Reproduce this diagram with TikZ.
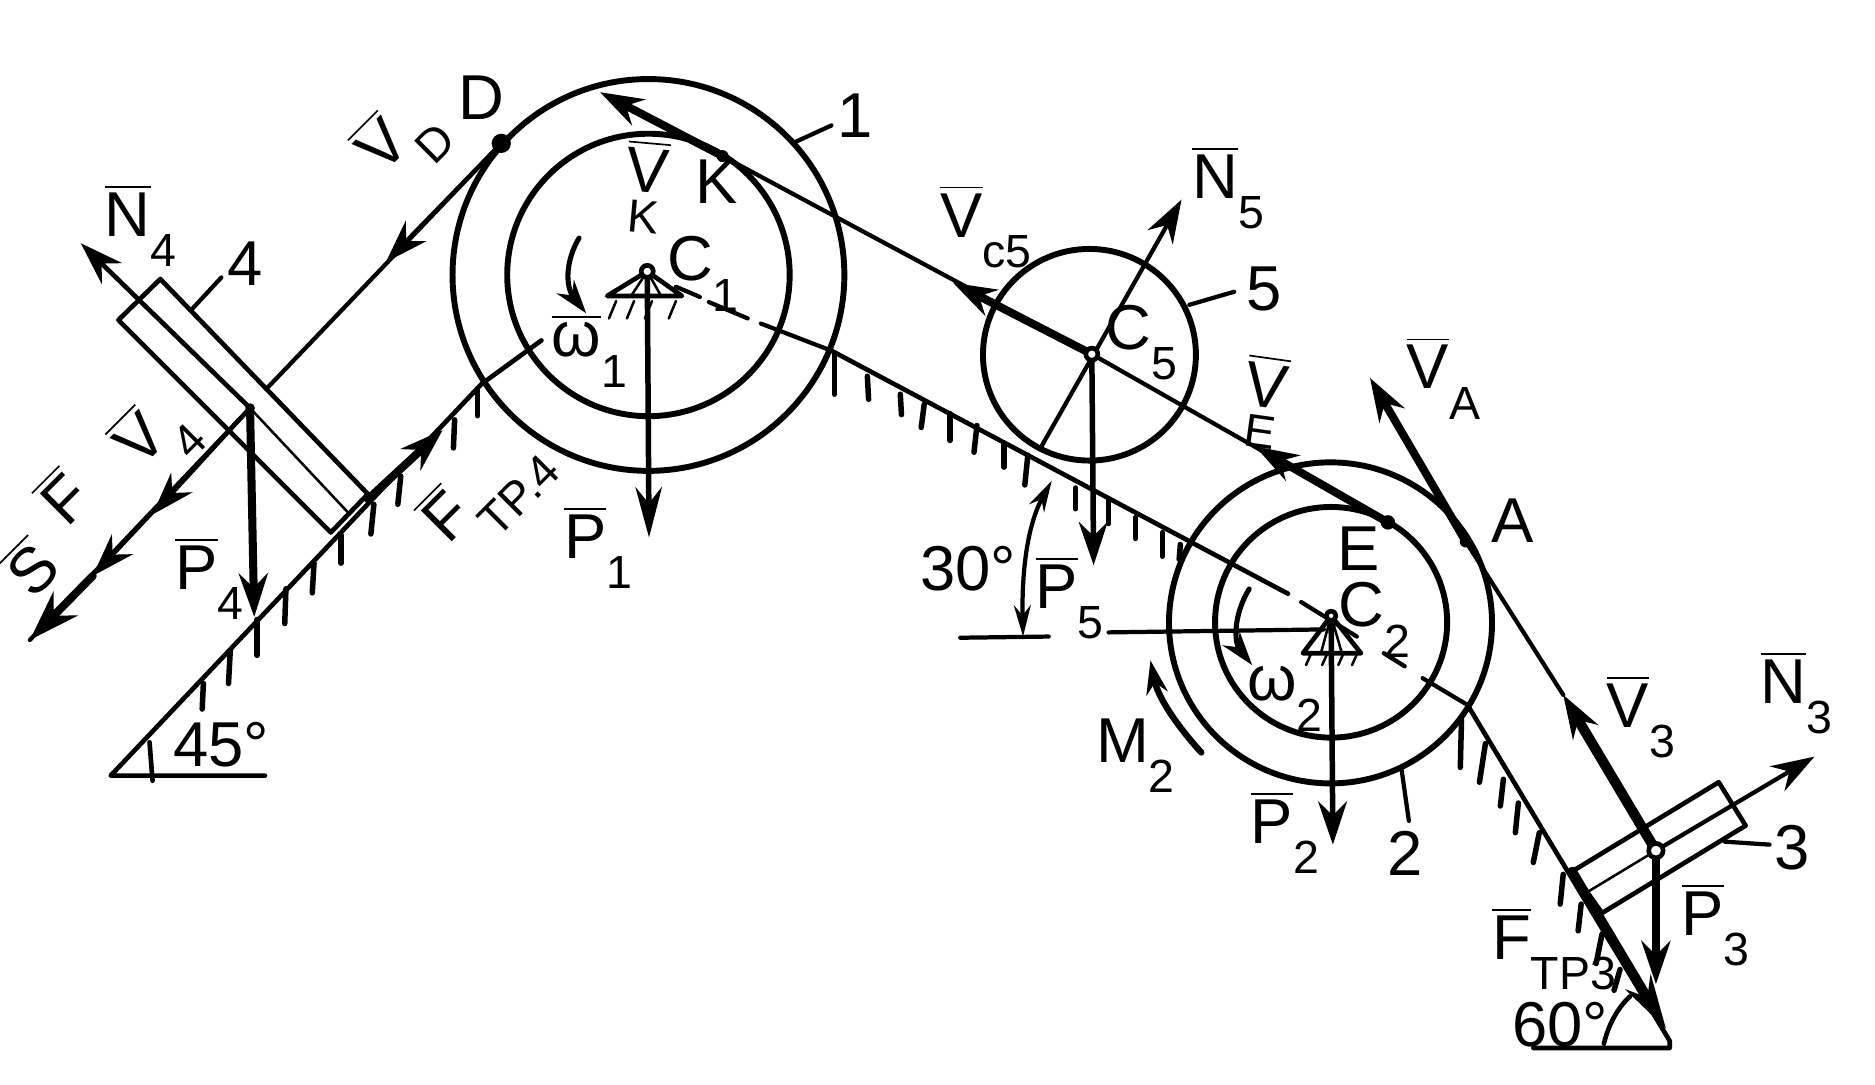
\documentclass[tikz,border=0pt]{standalone}
\usepackage{fontspec}
\setmainfont{Liberation Sans}
\usetikzlibrary{arrows.meta}
\newcommand{\hnd}{\fontsize{15}{16}\selectfont}
\newcommand{\subf}{\fontsize{11}{11}\selectfont}
\newcommand{\lbv}[2]{$\overline{\mbox{#1}}$\raisebox{-.9ex}{\subf #2}}
\newcommand{\lbs}[2]{#1\raisebox{-.9ex}{\subf #2}}
\newcommand{\lbd}[2]{\shortstack{$\overline{\mbox{#1}}$\\[-1pt]{\subf #2}}}
\tikzset{
  thinl/.style={line width=1pt},
  hair/.style={line width=.6pt},
  wheel/.style={line width=1.4pt},
  hatch/.style={line width=1.3pt},
  force/.style={line width=1.9pt,-{Stealth[length=3.6mm,width=2.4mm]}},
  forcet/.style={line width=1pt,-{Stealth[length=3.6mm,width=2.4mm]}},
  spin/.style={line width=1.2pt,-{Stealth[length=2.8mm,width=1.8mm]}},
  txt/.style={font=\hnd,inner sep=0pt},
  dot/.style={fill=black,line width=.8pt},
  ring/.style={draw=black,fill=white,line width=1.1pt},
  zone/.style={x=.00498cm,y=-.00426cm},
  ztwo/.style={shift={(778,124)},x=.00498cm,y=-.00495cm}
}
\begin{document}
\begin{tikzpicture}[x=.01cm,y=-.01cm,line cap=round,line join=round]
\useasboundingbox (0,0) rectangle (1560,902);
%--------------- left part (frame of the first crop)
\begin{scope}[zone]
 \coordinate (C1) at (1082,530);
 \coordinate (D) at (838,280);
 \coordinate (K) at (1208,305);
 \coordinate (C4) at (418,797);
 \coordinate (B4a) at (268,545);
 \coordinate (B4b) at (615,965);
 \coordinate (B4c) at (553,1040);
 \coordinate (B4d) at (198,625);
 \coordinate (B4m) at (235,585);
 \coordinate (B4n) at (585,1005);
 \coordinate (RopeD) at (445,760);
 \coordinate (SlL) at (185,1515);
 \coordinate (SlLr) at (443,1515);
 \coordinate (SlLb) at (805,750);
 \coordinate (SlLt) at (905,665);
 \coordinate (VDt) at (645,512);
 \coordinate (Ft) at (255,1005);
 \coordinate (St) at (155,1125);
 \coordinate (Ht) at (50,1250);
 \coordinate (N4t) at (135,475);
 \coordinate (P4t) at (425,1205);
 \coordinate (P1t) at (1085,1050);
 \coordinate (VKt) at (1003,180);
 \coordinate (Fs) at (615,975);
 \coordinate (Fe) at (740,840);
 % ticks of the left incline
 \foreach \a/\b/\c/\d in {798/760/798/812,760/820/758/875,670/930/665/985,625/985/620/1043,570/1045/570/1100,525/1100/522/1158,478/1150/476/1218,430/1210/430/1280,385/1270/382/1335,340/1335/338/1385}
   \draw[hatch] (\a,\b) -- (\c,\d);
 \draw[thinl,line width=1.1pt] (250,1450) -- (255,1525);
 \foreach \a/\b/\c/\d in {1395/690/1395/770,1450/735/1452/780,1505/770/1507/810,1545/790/1540/835}
   \draw[hatch] (\a,\b) -- (\c,\d);
 % dashes of the line through C1
 \draw[thinl] (1130,560) -- (1170,580);
 \draw[thinl] (1185,590) -- (1250,622);
 \draw[thinl] (1272,632) -- (1390,685) coordinate (Sl2s);
 % omega 1
 \draw[spin] (968,465) .. controls (945,510) and (945,560) .. (980,612);
 % support at C1
 \draw[thinl,line width=1.1pt] (C1) -- (1015,578) -- (1140,578) -- cycle;
 \draw[hair] (C1) -- (1055,578) (C1) -- (1105,578);
 \foreach \x in {1030,1060,1090,1130} \draw[hair] (\x,588) -- (\x-12,622);
 % leader 1 and 4
 \draw[thinl] (1330,277) -- (1390,245);
 \draw[thinl] (320,605) -- (370,542);
 % labels
 \node[txt] (lD) at (805,190) {D};
 \node[txt,rotate=45] (lVD) at (672,275) {\lbv{V}{D}};
 \node[txt] (lN4) at (235,440) {\lbv{N}{4}};
 \node[txt] (l4) at (410,515) {4};
 \node[txt] (l1) at (1430,225) {1};
 \node[txt,rotate=-5] (lVK) at (1080,365) {\lbd{V}{K}};
 \node[txt] (lK) at (1198,355) {K};
 \node[txt] (lC1) at (1175,535) {\lbs{C}{1}};
 \node[txt] (lw1) at (985,685) {\lbv{ω}{1}};
 \node[txt] (lP1) at (1000,1070) {\lbv{P}{1}};
 \node[txt,rotate=45] (lFt4) at (815,960) {\lbv{F}{TP.4}};
 \node[txt] (l45) at (370,1455) {45°};
 \node[txt,rotate=45] (lV4) at (262,855) {\lbv{V}{4}};
 \node[txt,rotate=45] (lF) at (122,990) {\lbv{F}{}};
 \node[txt,rotate=45] (lS) at (68,1128) {\lbv{S}{}};
 \node[txt] (lP4) at (350,1130) {\lbv{P}{4}};
\end{scope}
%--------------- right part (frame of the second crop)
\begin{scope}[ztwo]
 \coordinate (C5) at (262,345);
 \coordinate (C2) at (662,785);
 \coordinate (E) at (757,628);
 \coordinate (A) at (887,660);
 \coordinate (C3) at (1205,1180);
 \coordinate (B3a) at (1310,1065);
 \coordinate (B3b) at (1355,1138);
 \coordinate (B3c) at (1115,1285);
 \coordinate (B3d) at (1065,1215);
 \coordinate (B3m) at (1090,1250);
 \coordinate (Sl2e) at (590,748);
 \coordinate (Sl3s) at (890,935);
 \coordinate (Sl3e) at (1228,1500);
 \coordinate (Base3) at (1000,1512);
 \coordinate (Base3r) at (1228,1512);
 \coordinate (Tan5) at (175,505);
 \coordinate (N5t) at (412,85);
 \coordinate (Vc5t) at (30,225);
 \coordinate (VEt) at (535,500);
 \coordinate (VAt) at (727,385);
 \coordinate (V3t) at (1050,918);
 \coordinate (N3t) at (1470,1022);
 \coordinate (P3t) at (1205,1405);
 \coordinate (P5t) at (265,700);
 \coordinate (P2t) at (665,1170);
 \coordinate (Fr3) at (1222,1480);
 \coordinate (Fr3s) at (1065,1215);
 \draw[wheel] (258,346) circle (178);
 \draw[wheel] (661,797) circle (270);
 \draw[wheel] (662,796) circle (194);
 \foreach \a/\b/\c/\d in {25/445/25/490,70/465/65/510,115/495/115/535,155/515/150/565,235/570/235/605,290/590/290/630,335/620/335/655,380/645/380/685,410/665/408/690,880/960/878/1040,920/1000/910/1065,950/1060/945/1105,975/1100/970/1150,1010/1150/1000/1200,1050/1220/1045/1270,1080/1270/1075/1315,1115/1320/1105/1370,1145/1380/1135/1415}
   \draw[hatch] (\a,\b) -- (\c,\d);
 \draw[thinl] (612,762) -- (705,820);
 \draw[thinl] (750,848) -- (785,870);
 \draw[thinl] (815,890) -- (Sl3s);
 \draw[thinl] (42,822) -- (190,820);
 \draw[thinl] (290,813) -- (650,808);
 \draw[line width=1pt,{Stealth[length=2.6mm,width=1.4mm]}-{Stealth[length=2.6mm,width=1.4mm]}] (195,558) .. controls (150,640) and (145,730) .. (147,820);
 \draw[spin] (525,740) .. controls (498,785) and (500,830) .. (530,868);
 \draw[spin,line width=1.5pt] (445,1015) .. controls (400,965) and (372,920) .. (360,860);
 \draw[thinl,line width=1.1pt] (1118,1505) .. controls (1125,1475) and (1140,1445) .. (1162,1425);
 % support at C2
 \draw[thinl,line width=1.1pt] (C2) -- (615,848) -- (712,848) -- cycle;
 \draw[hair] (C2) -- (645,848) (C2) -- (680,848);
 \foreach \x in {628,655,682,705} \draw[hair] (\x,850) -- (\x-8,868);
 % leaders
 \draw[thinl] (425,262) -- (500,240);
 \draw[thinl] (780,1045) -- (792,1130);
 \draw[thinl] (1320,1165) -- (1395,1170);
 % labels
 \node[txt] (lVc5) at (85,130) {\lbv{V}{c5}};
 \node[txt] (lN5) at (490,65) {\lbv{N}{5}};
 \node[txt] (l5) at (550,235) {5};
 \node[txt] (lC5) at (345,325) {\lbs{C}{5}};
 \node[txt,rotate=-8] (lVE) at (550,425) {\lbd{V}{E}};
 \node[txt] (lVA) at (850,385) {\lbv{V}{A}};
 \node[txt] (lA) at (965,625) {A};
 \node[txt] (lE) at (708,672) {E};
 \node[txt] (lC2) at (735,792) {\lbs{C}{2}};
 \node[txt] (l30) at (55,705) {30°};
 \node[txt] (lP5) at (225,755) {\lbv{P}{5}};
 \node[txt] (lw2) at (585,925) {\lbs{ω}{2}};
 \node[txt] (lM2) at (335,1020) {\lbs{M}{2}};
 \node[txt] (lP2) at (585,1150) {\lbv{P}{2}};
 \node[txt] (l2) at (785,1185) {2};
 \node[txt] (lV3) at (1180,955) {\lbv{V}{3}};
 \node[txt] (lN3) at (1440,915) {\lbv{N}{3}};
 \node[txt] (l3) at (1432,1175) {3};
 \node[txt] (lP3) at (1305,1305) {\lbv{P}{3}};
 \node[txt] (lFr3) at (1035,1345) {\lbv{F}{TP3}};
 \node[txt] (l60) at (1045,1472) {60°};
\end{scope}
%--------------- wheels and members joined by name
\draw[wheel] (C1) ++(1,3) circle (163);
\draw[wheel] (C1) ++(1,3) circle (117.5);
% incline left
\draw[thinl,line width=1.1pt] (SlLr) -- (SlL) -- (SlLb) -- (SlLt);
% incline middle and right
\draw[thinl,line width=1.1pt] (Sl2s) -- (Sl2e);
\draw[thinl,line width=1.1pt] (Sl3s) -- (Sl3e) -- (Base3r) -- (Base3);
% block 4
\draw[thinl,line width=1.1pt] (B4a) -- (B4b) -- (B4c) -- (B4d) -- cycle;
\draw[hair] (C4) -- (B4n);
% rope D to block 4
\draw[thinl] (D) -- (RopeD);
\draw[forcet] (D) -- (VDt);
% forces on block 4
\draw[thinl] (C4) -- (Ht);
\draw[forcet] (C4) -- (Ft);
\draw[forcet] (C4) -- (St);
\draw[force,-{Stealth[length=4.2mm,width=2.8mm]}] (St) -- (Ht);
\draw[forcet,line width=1.1pt] (C4) -- (N4t);
\draw[force] (C4) -- (P4t);
\draw[force] (Fs) -- (Fe);
\draw[force,line width=1.3pt,-{Stealth[length=4.2mm,width=2.2mm]}] (C1) -- (P1t);
% rope K - C5 - E
\draw[thinl] (K) -- (C5) -- (E);
\draw[force] (K) -- (VKt);
\draw[force] (C5) -- (Vc5t);
\draw[force] (E) -- (VEt);
\draw[forcet] (Tan5) -- (N5t);
\draw[force,line width=1.3pt] (C5) -- (P5t);
% right rope
\draw[thinl] (A) -- (V3t);
\draw[force] (A) -- (VAt);
\draw[force,line width=2.4pt] (C3) -- (V3t);
\draw[force,line width=1.3pt] (C2) -- (P2t);
% block 3
\draw[thinl,line width=1.1pt] (B3a) -- (B3b) -- (B3c) -- (B3d) -- cycle;
\draw[hair] (B3m) -- (C3);
\draw[forcet] (C3) -- (N3t);
\draw[force] (C3) -- (P3t);
\draw[force,line width=2.2pt,-{Stealth[length=4.5mm,width=2.4mm]}] (Fr3s) -- (Fr3);
% points
\fill[dot] (D) circle (8);
\fill[dot] (K) circle (5);
\fill[dot] (A) circle (5);
\fill[dot] (E) circle (6);
\fill[dot] (C4) circle (4);
\draw[ring] (C5) circle (5);
\draw[ring] (C3) circle (6);
\draw[ring] (C1) circle (5);
\draw[ring] (C2) circle (4);
\end{tikzpicture}
\end{document}
